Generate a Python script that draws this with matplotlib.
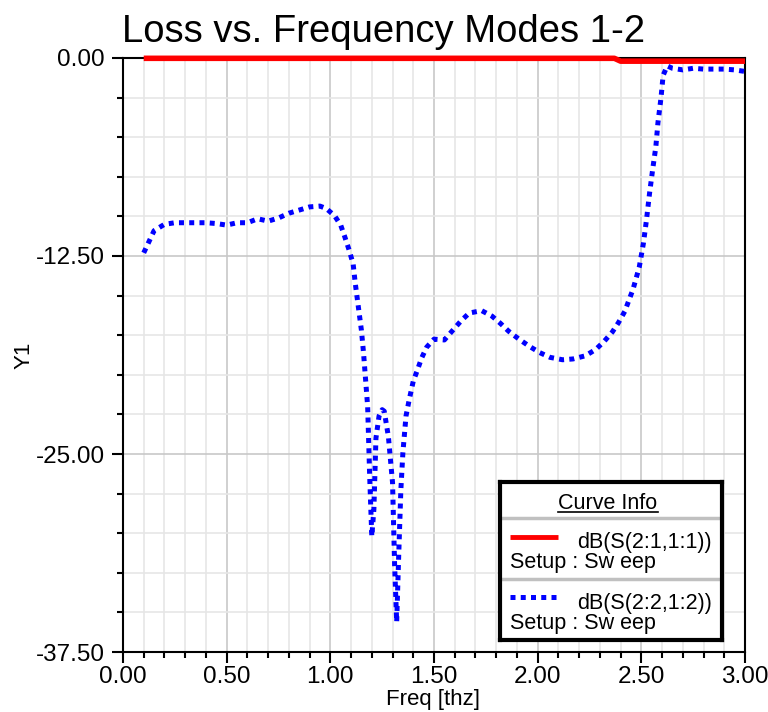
import matplotlib
matplotlib.use("Agg")
import matplotlib.pyplot as plt
from matplotlib.ticker import MultipleLocator, FormatStrFormatter

plt.rcParams['font.family'] = ['Liberation Sans', 'DejaVu Sans']

# dB(S(2:1,1:1))
freq_s21 = [0.10, 2.37, 2.40, 3.00]
db_s21 = [-0.02, -0.02, -0.20, -0.20]

# dB(S(2:2,1:2))
freq_s22 = [0.10, 0.15, 0.20, 0.25, 0.30, 0.35, 0.40, 0.45, 0.50, 0.55,
            0.60, 0.65, 0.70, 0.75, 0.80, 0.85, 0.90, 0.95, 0.98, 1.02,
            1.05, 1.07, 1.09, 1.11, 1.12, 1.135, 1.15, 1.16, 1.17, 1.18,
            1.19, 1.20, 1.21, 1.22, 1.235, 1.25, 1.26, 1.28, 1.30, 1.31,
            1.32, 1.33, 1.34, 1.35, 1.365, 1.38, 1.40, 1.42, 1.44, 1.465,
            1.50, 1.55, 1.59, 1.63, 1.67, 1.73, 1.78, 1.82, 1.86, 1.91,
            1.96, 2.01, 2.06, 2.12, 2.17, 2.23, 2.28, 2.32, 2.36, 2.39,
            2.42, 2.44, 2.46, 2.49, 2.51, 2.525, 2.54, 2.555, 2.57, 2.58,
            2.595, 2.605, 2.625, 2.65, 2.70, 2.75, 2.80, 2.85, 2.90, 2.95,
            3.00]
db_s22 = [-12.3, -10.9, -10.5, -10.4, -10.4, -10.4, -10.4, -10.45, -10.55, -10.4,
          -10.4, -10.15, -10.3, -10.1, -9.8, -9.6, -9.4, -9.35, -9.5, -9.95,
          -10.55, -11.3, -12.1, -13.0, -14.2, -15.7, -17.2, -18.6, -20.3, -22.0,
          -26.5, -30.2, -28.5, -24.0, -22.6, -22.2, -22.3, -23.9, -26.8, -32.0,
          -35.6, -31.3, -27.3, -24.9, -22.6, -21.6, -20.4, -19.7, -18.95, -18.25,
          -17.75, -17.8, -17.2, -16.6, -16.1, -15.95, -16.3, -16.75, -17.25, -17.75,
          -18.2, -18.6, -18.9, -19.05, -19.0, -18.8, -18.4, -17.9, -17.3, -16.7,
          -16.0, -15.3, -14.6, -13.2, -11.7, -10.2, -8.5, -7.0, -5.6, -4.1,
          -2.5, -1.1, -0.5, -0.65, -0.75, -0.65, -0.7, -0.7, -0.7, -0.75,
          -0.85]

W, H = 768, 712
fig = plt.figure(figsize=(W / 100, H / 100), dpi=100)
ax = fig.add_axes([123 / W, 1 - 652 / H, 622 / W, 594 / H])

ax.plot(freq_s21, db_s21, color='red', lw=4, solid_capstyle='butt',
        clip_on=False, zorder=4)
ax.plot(freq_s22, db_s22, color='blue', lw=3.6, dashes=(1.0, 1.05),
        dash_capstyle='butt', zorder=3)

ax.set_xlim(0, 3)
ax.set_ylim(-37.5, 0)
ax.xaxis.set_major_locator(MultipleLocator(0.5))
ax.xaxis.set_minor_locator(MultipleLocator(0.1))
ax.yaxis.set_major_locator(MultipleLocator(12.5))
ax.yaxis.set_minor_locator(MultipleLocator(2.5))
ax.xaxis.set_major_formatter(FormatStrFormatter('%.2f'))
ax.yaxis.set_major_formatter(FormatStrFormatter('%.2f'))

ax.grid(which='minor', color='#e6e6e6', lw=1.2)
ax.grid(which='major', color='#c8c8c8', lw=1.2)
ax.set_axisbelow(True)

ax.tick_params(which='major', direction='out', length=8, width=1.5,
               labelsize=17.5, pad=2)
ax.tick_params(which='minor', direction='out', length=4, width=1.5)
ax.tick_params(axis='y', which='major', pad=5)
for s in ax.spines.values():
    s.set_linewidth(1.5)

ax.set_xlabel('Freq [thz]', fontsize=16)
ax.xaxis.set_label_coords(0.498, -0.063)
ax.set_ylabel('Y1', fontsize=16)
ax.yaxis.set_label_coords(-0.142, 0.5)

fig.text(122 / W, 1 - 42 / H, 'Loss vs. Frequency Modes 1-2', fontsize=27.5,
         ha='left', va='baseline')

# legend box, drawn in pixel units of its own axes
lg = fig.add_axes([500 / W, 1 - 640 / H, 222 / W, 158 / H], zorder=5)
lg.set_xlim(500, 722)
lg.set_ylim(640, 482)
lg.set_xticks([])
lg.set_yticks([])
lg.set_facecolor('white')
for s in lg.spines.values():
    s.set_linewidth(3)

lg.text(608, 509, 'Curve Info', fontsize=15.5, ha='center', va='baseline')
lg.plot([558, 658], [512, 512], color='black', lw=1.2)
lg.plot([500, 722], [518, 518], color='#c0c0c0', lw=2.5)
lg.plot([500, 722], [579, 579], color='#c0c0c0', lw=2.5)

lg.plot([510, 558], [537, 537], color='red', lw=3.5, solid_capstyle='butt')
lg.text(712, 548, 'dB(S(2:1,1:1))', fontsize=15.5, ha='right', va='baseline')
lg.text(510, 568, 'Setup : Sw eep', fontsize=15.5, ha='left', va='baseline')

lg.plot([510, 556], [597, 597], color='blue', lw=3.6, dashes=(1.0, 1.05),
        dash_capstyle='butt')
lg.text(712, 609, 'dB(S(2:2,1:2))', fontsize=15.5, ha='right', va='baseline')
lg.text(510, 629, 'Setup : Sw eep', fontsize=15.5, ha='left', va='baseline')

fig.savefig('out.png', dpi=100)
